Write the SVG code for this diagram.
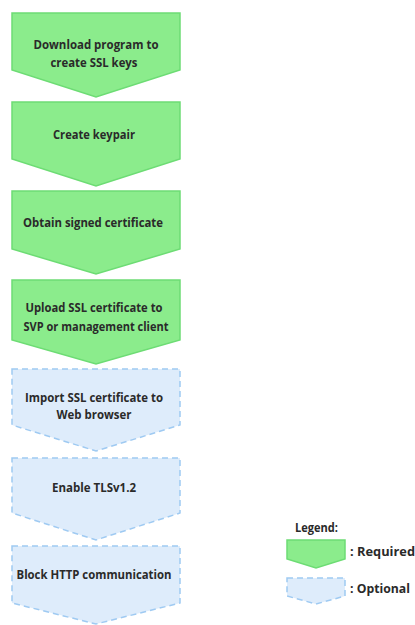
<svg xmlns="http://www.w3.org/2000/svg" width="415" height="625" viewBox="0 0 415 625">
<style>
.req{fill:#8bec8c;stroke:#6ddc74;stroke-width:1.5}
.opt{fill:#deecfb;stroke:#9fcaf2;stroke-width:1.5;stroke-dasharray:6 4}
text{font-family:"Open Sans","DejaVu Sans Condensed",sans-serif;font-weight:bold;font-size:13px;fill:#2a2a2a;text-anchor:middle}
.lg{text-anchor:start}
</style>
<rect width="415" height="625" fill="#fff"/>
<g id="connectors"/>
<g id="n1"><path class="req" d="M12,13H180V70L96,97L12,70Z"/>
<text x="96" y="49" textLength="125" lengthAdjust="spacingAndGlyphs">Download program to</text>
<text x="94" y="67" textLength="87" lengthAdjust="spacingAndGlyphs">create SSL keys</text></g>
<g id="n2"><path class="req" d="M12,102H180V159L96,186L12,159Z"/>
<text x="94" y="139" textLength="82" lengthAdjust="spacingAndGlyphs">Create keypair</text></g>
<g id="n3"><path class="req" d="M12,191H180V249L96,274L12,249Z"/>
<text x="93" y="227" textLength="140" lengthAdjust="spacingAndGlyphs">Obtain signed certificate</text></g>
<g id="n4"><path class="req" d="M12,280H180V340L96,364L12,340Z"/>
<text x="94" y="312" textLength="137" lengthAdjust="spacingAndGlyphs">Upload SSL certificate to</text>
<text x="96" y="331" textLength="145" lengthAdjust="spacingAndGlyphs">SVP or management client</text></g>
<g id="n5"><path class="opt" d="M12,369H180V425L96,451L12,425Z"/>
<text x="94" y="402" textLength="138" lengthAdjust="spacingAndGlyphs">Import SSL certificate to</text>
<text x="94" y="419" textLength="75" lengthAdjust="spacingAndGlyphs">Web browser</text></g>
<g id="n6"><path class="opt" d="M12,458H180V513L96,540L12,513Z"/>
<text x="94" y="492" textLength="84" lengthAdjust="spacingAndGlyphs">Enable TLSv1.2</text></g>
<g id="n7"><path class="opt" d="M12,546H180V603L96,624L12,603Z"/>
<text x="94" y="579" textLength="155" lengthAdjust="spacingAndGlyphs">Block HTTP communication</text></g>
<g id="legend">
<text class="lg" x="295" y="532" font-size="11.5" textLength="43" lengthAdjust="spacingAndGlyphs">Legend:</text>
<path class="req" d="M287,540H345V559L316,568L287,559Z"/>
<text class="lg" x="350" y="556" textLength="65" lengthAdjust="spacingAndGlyphs">: Required</text>
<path class="opt" d="M287,578H345V596L316,604L287,596Z"/>
<text class="lg" x="350" y="593" textLength="60" lengthAdjust="spacingAndGlyphs">: Optional</text>
</g>
</svg>
